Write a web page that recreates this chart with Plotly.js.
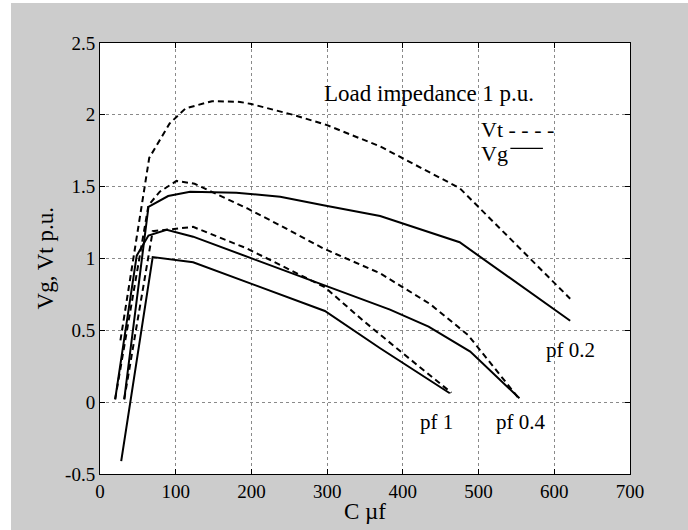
<!DOCTYPE html>
<html>
<head>
<meta charset="utf-8">
<script src="https://cdn.plot.ly/plotly-3.0.1.min.js"></script>
<style>html,body{margin:0;padding:0;background:#fff}</style>
</head>
<body>
<div id="chart" style="width:688px;height:530px"></div>
<script>
// pf 0.2
const pf02VtX = [27, 65, 92, 113, 148, 185, 200, 255, 299, 370, 475, 621];
const pf02VtY = [0.43, 1.70, 1.94, 2.045, 2.095, 2.09, 2.075, 2.0, 1.93, 1.78, 1.49, 0.72];
const pf02VgX = [32, 64, 90, 119, 180, 238, 295, 370, 475, 621];
const pf02VgY = [0.02, 1.36, 1.435, 1.465, 1.458, 1.43, 1.37, 1.296, 1.113, 0.567];
// pf 0.4
const pf04VtX = [20, 64, 79, 101, 125, 194, 238, 295, 370, 436, 486, 553];
const pf04VtY = [0.02, 1.37, 1.465, 1.54, 1.52, 1.35, 1.23, 1.07, 0.897, 0.683, 0.468, 0.027];
const pf04VgX = [20, 48.5, 64, 88, 123, 194, 295, 383, 434, 489, 554];
const pf04VgY = [0.02, 1.02, 1.16, 1.2, 1.152, 1.013, 0.816, 0.644, 0.526, 0.352, 0.027];
// pf 1
const pf1VtX = [32, 69.6, 123, 194, 297, 347, 400, 464];
const pf1VtY = [0.02, 1.19, 1.22, 1.07, 0.80, 0.57, 0.34, 0.066];
const pf1VgX = [28, 69.6, 123, 297, 370, 462];
const pf1VgY = [-0.41, 1.01, 0.974, 0.635, 0.375, 0.062];

const xTicks = [0, 100, 200, 300, 400, 500, 600, 700];
const xTickText = ["0", "100", "200", "300", "400", "500", "600", "700"];
const yTicks = [-0.5, 0, 0.5, 1, 1.5, 2, 2.5];
const yTickText = ["-0.5", "0", "0.5", "1", "1.5", "2", "2.5"];

const FONT = "Liberation Serif, Times New Roman, serif";
const dashed = {color: "#000", width: 2, dash: "6px,4px"};
const solid = {color: "#000", width: 2};

function tr(x, y, line, name) {
  return {x: x, y: y, type: "scatter", mode: "lines", line: line, name: name, showlegend: false, hoverinfo: "skip"};
}

const data = [
  tr(pf02VtX, pf02VtY, dashed, "pf 0.2 Vt"),
  tr(pf02VgX, pf02VgY, solid, "pf 0.2 Vg"),
  tr(pf04VtX, pf04VtY, dashed, "pf 0.4 Vt"),
  tr(pf04VgX, pf04VgY, solid, "pf 0.4 Vg"),
  tr(pf1VtX, pf1VtY, dashed, "pf 1 Vt"),
  tr(pf1VgX, pf1VgY, solid, "pf 1 Vg")
];

const axisCommon = {
  showline: true, linecolor: "#000", linewidth: 1, mirror: "ticks",
  ticks: "inside", ticklen: 5, tickcolor: "#000",
  showgrid: true, gridcolor: "#8a8a8a", griddash: "dot", gridwidth: 1,
  zeroline: false, tickfont: {family: FONT, size: 19, color: "#000"}
};

const layout = {
  width: 688, height: 530,
  margin: {l: 100, r: 58, t: 43, b: 56},
  paper_bgcolor: "#cccccc", plot_bgcolor: "#ffffff",
  font: {family: FONT, color: "#000"},
  xaxis: Object.assign({}, axisCommon, {
    range: [0, 700], tickvals: xTicks, ticktext: xTickText
  }),
  yaxis: Object.assign({}, axisCommon, {
    range: [-0.5, 2.5], tickvals: yTicks, ticktext: yTickText
  }),
  annotations: [
    {x: 0.5, y: -0.086, xref: "paper", yref: "paper", text: "C µf", showarrow: false, xanchor: "center", yanchor: "middle", font: {family: FONT, size: 23}},
    {x: -0.102, y: 0.5, xref: "paper", yref: "paper", text: "Vg, Vt p.u.", textangle: -90, showarrow: false, xanchor: "center", yanchor: "middle", font: {family: FONT, size: 23}},
    {x: 293, y: 2.15, xref: "x", yref: "y", text: "Load impedance 1 p.u.", showarrow: false, xanchor: "left", yanchor: "middle", font: {family: FONT, size: 23}},
    {x: 501, y: 1.90, xref: "x", yref: "y", text: "Vt - - - -", showarrow: false, xanchor: "left", yanchor: "middle", font: {family: FONT, size: 22}},
    {x: 501, y: 1.73, xref: "x", yref: "y", text: "Vg", showarrow: false, xanchor: "left", yanchor: "middle", font: {family: FONT, size: 22}},
    {x: 621, y: 0.36, xref: "x", yref: "y", text: "pf 0.2", showarrow: false, xanchor: "center", yanchor: "middle", font: {family: FONT, size: 21}},
    {x: 445, y: -0.14, xref: "x", yref: "y", text: "pf 1", showarrow: false, xanchor: "center", yanchor: "middle", font: {family: FONT, size: 21}},
    {x: 555, y: -0.14, xref: "x", yref: "y", text: "pf 0.4", showarrow: false, xanchor: "center", yanchor: "middle", font: {family: FONT, size: 21}}
  ],
  shapes: [
    {type: "line", xref: "x", yref: "y", x0: 542, x1: 585, y0: 1.767, y1: 1.767, line: {color: "#000", width: 1.2}},
    {type: "rect", xref: "paper", yref: "paper", x0: -0.2, x1: -0.1679, y0: -0.2, y1: 1.2, line: {width: 0}, fillcolor: "#ffffff", layer: "above"},
    {type: "rect", xref: "paper", yref: "paper", x0: -0.2, x1: 1.2, y0: 1.0928, y1: 1.2, line: {width: 0}, fillcolor: "#ffffff", layer: "above"}
  ]
};

Plotly.newPlot("chart", data, layout, {displayModeBar: false, staticPlot: true});
</script>
</body>
</html>
